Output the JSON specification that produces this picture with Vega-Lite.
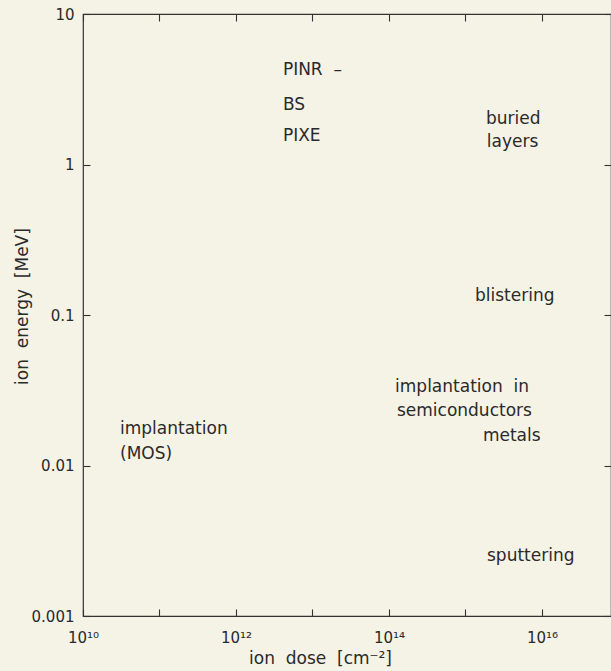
{
  "$schema": "https://vega.github.io/schema/vega-lite/v6.json",
  "autosize": {"type": "none"},
  "padding": {"left": 83, "top": 14, "right": 0, "bottom": 55},
  "width": 528,
  "height": 602,
  "background": "#f5f2e6",
  "config": {
    "view": {"stroke": "#333333", "strokeWidth": 1.2},
    "font": "DejaVu Sans",
    "axis": {
      "domain": false,
      "grid": false,
      "tickColor": "#333333",
      "tickWidth": 1.1,
      "tickSize": 7,
      "labelFont": "DejaVu Sans",
      "labelFontSize": 15,
      "labelColor": "#2a2a2a",
      "titleFont": "DejaVu Sans",
      "titleFontSize": 17,
      "titleFontWeight": "normal",
      "titleColor": "#2a2a2a",
      "labelOverlap": false,
      "labelFlush": false,
      "labelBound": false
    }
  },
  "data": {
    "values": [
      {"label": "PINR\u00a0 –", "dose": 4.1e12, "energy": 4.25},
      {"label": "BS", "dose": 4.1e12, "energy": 2.48},
      {"label": "PIXE", "dose": 4.1e12, "energy": 1.55},
      {"label": "buried", "dose": 1.85e15, "energy": 2.01},
      {"label": "layers", "dose": 1.9e15, "energy": 1.41},
      {"label": "blistering", "dose": 1.33e15, "energy": 0.134},
      {"label": "implantation\u00a0 in", "dose": 1.2e14, "energy": 0.0333},
      {"label": "semiconductors", "dose": 1.27e14, "energy": 0.023},
      {"label": "metals", "dose": 1.69e15, "energy": 0.0157},
      {"label": "implantation", "dose": 3.05e10, "energy": 0.0175},
      {"label": "(MOS)", "dose": 3.05e10, "energy": 0.0119},
      {"label": "sputtering", "dose": 1.91e15, "energy": 0.00251}
    ]
  },
  "resolve": {"axis": {"x": "independent", "y": "independent"}},
  "layer": [
    {
      "mark": {"type": "text", "align": "left", "baseline": "middle", "fontSize": 17, "color": "#2a2a2a", "font": "DejaVu Sans"},
      "encoding": {
        "x": {
          "field": "dose", "type": "quantitative",
          "scale": {"type": "log", "domain": [1e10, 7.98e16], "nice": false},
          "axis": {
            "orient": "bottom",
            "offset": -7,
            "values": [1e10, 1e11, 1e12, 1e13, 1e14, 1e15, 1e16],
            "labelExpr": "datum.value == 1e10 ? '10¹⁰' : datum.value == 1e12 ? '10¹²' : datum.value == 1e14 ? '10¹⁴' : datum.value == 1e16 ? '10¹⁶' : ''",
            "labelBaseline": "alphabetic",
            "labelPadding": 26,
            "title": "ion\u00a0 dose\u00a0 [cm⁻²]",
            "titleX": 237,
            "titleY": 49,
            "titleAlign": "center",
            "titleBaseline": "middle"
          }
        },
        "y": {
          "field": "energy", "type": "quantitative",
          "scale": {"type": "log", "domain": [0.001, 10], "nice": false},
          "axis": {
            "orient": "left",
            "offset": -7,
            "values": [0.001, 0.01, 0.1, 1, 10],
            "labelExpr": "datum.value == 10 ? '10' : datum.value == 1 ? '1' : datum.value == 0.1 ? '0.1' : datum.value == 0.01 ? '0.01' : '0.001'",
            "labelPadding": 9,
            "title": "ion\u00a0 energy\u00a0 [MeV]",
            "titleX": -68,
            "titleY": 292,
            "titleAngle": -90,
            "titleAlign": "center",
            "titleBaseline": "middle"
          }
        },
        "text": {"field": "label", "type": "nominal"}
      }
    },
    {
      "mark": {"type": "point", "opacity": 0},
      "encoding": {
        "x": {
          "field": "dose", "type": "quantitative",
          "axis": {
            "orient": "top",
            "offset": -7,
            "values": [1e10, 1e11, 1e12, 1e13, 1e14, 1e15, 1e16],
            "labels": false,
            "title": null
          }
        },
        "y": {
          "field": "energy", "type": "quantitative",
          "axis": {
            "orient": "right",
            "offset": -7,
            "values": [0.001, 0.01, 0.1, 1, 10],
            "labels": false,
            "title": null
          }
        }
      }
    }
  ]
}
